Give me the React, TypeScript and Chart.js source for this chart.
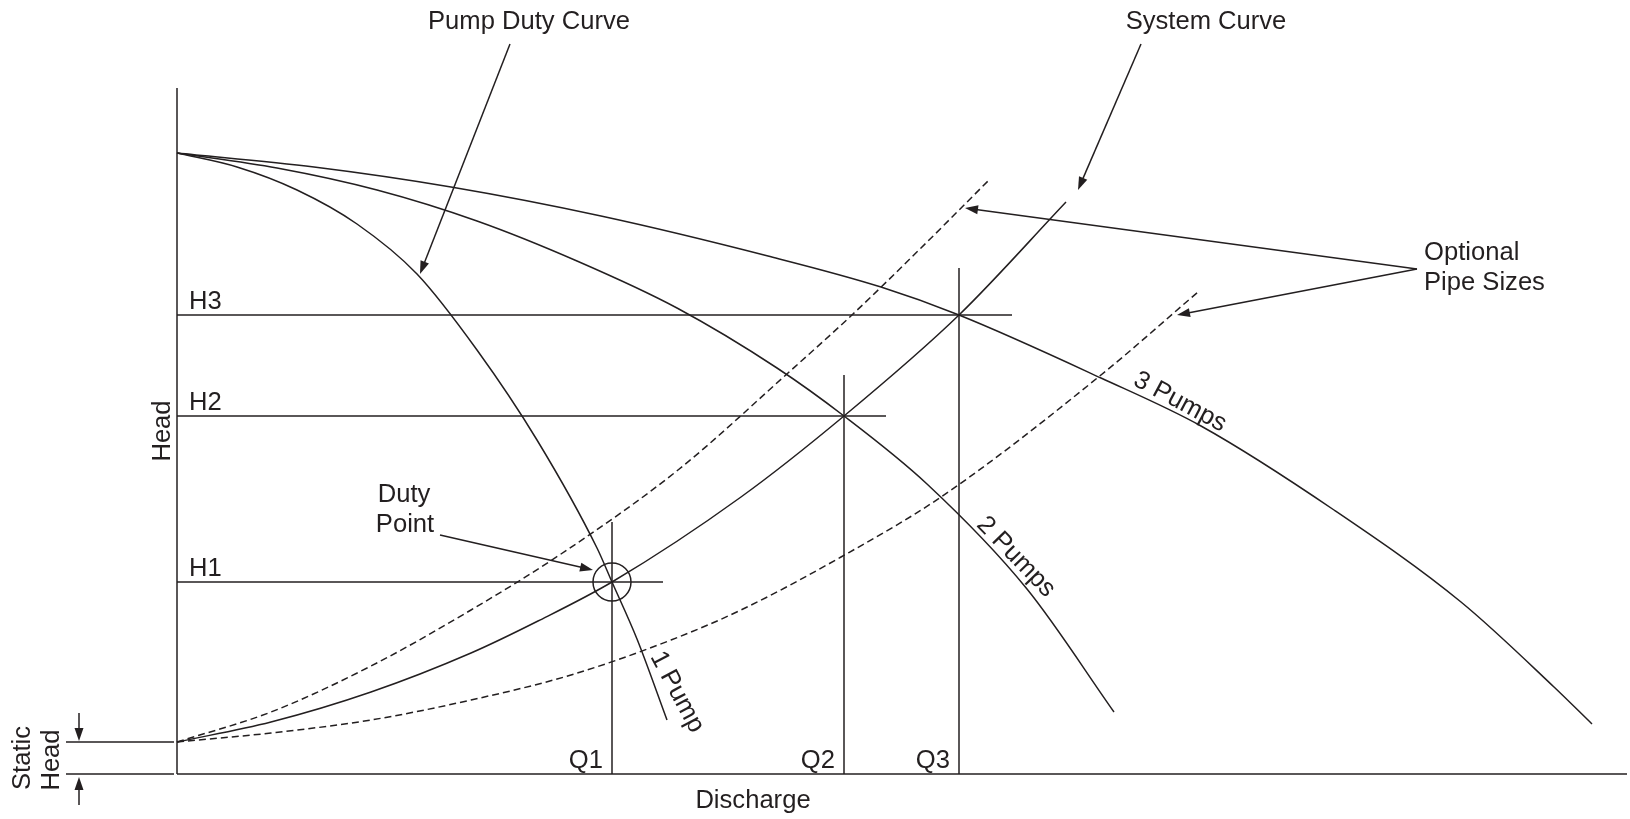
import React, { useEffect, useRef } from "react";
import { Chart, registerables } from "chart.js";

Chart.register(...registerables);

// Schematic units: discharge (x) and head (y), origin at the axes crossing.
const staticHead = 32;

const pump1Q = [0, 60, 120, 180, 240, 300, 360, 420, 435, 460, 490];
const pump1H = [621, 607, 584, 550, 500, 424, 334, 226, 192, 135, 54];

const pump2Q = [0, 100, 200, 300, 400, 500, 600, 667, 750, 850, 937];
const pump2H = [621, 606, 584, 553, 513, 466, 406, 358, 290, 185, 62];

const pump3Q = [0, 137, 274, 424, 591, 704, 782, 924, 1024, 1157, 1284, 1377, 1415];
const pump3H = [621, 607, 587, 558, 518, 487, 459, 396, 348, 264, 172, 87, 50];

const systemQ = [0, 94, 194, 294, 361, 435, 564, 667, 782, 889];
const systemH = [32, 52, 82, 121, 153, 192, 277, 358, 459, 572];

const pipeUpperQ = [0, 94, 194, 294, 384, 501, 611, 676, 744, 812];
const pipeUpperH = [32, 62, 108, 164, 220, 304, 401, 460, 526, 594];

const pipeLowerQ = [0, 94, 194, 294, 394, 494, 564, 664, 764, 924, 1021];
const pipeLowerH = [32, 41, 54, 74, 99, 134, 164, 217, 277, 399, 482];

const dutyQ = [435, 667, 782];
const dutyH = [192, 358, 459];
const qLabels = ["Q1", "Q2", "Q3"];
const hLabels = ["H1", "H2", "H3"];
const hLineEnds = [486, 709, 835];
const qLineTops = [252, 399, 506];

const xAxisEnd = 1450;
const yAxisTop = 686;

const INK = "#231f20";
const FONT = '25.6px "Liberation Sans", Arial, Helvetica, sans-serif';

const pts = (xs: number[], ys: number[]) => xs.map((x, i) => ({ x, y: ys[i] }));

type Arrow = { from: [number, number]; to: [number, number] };
const arrows: Arrow[] = [
  { from: [333, 730], to: [243, 500] },
  { from: [964, 730], to: [901, 584] },
  { from: [1240, 505], to: [788, 566] },
  { from: [1240, 505], to: [1000, 459] },
  { from: [263, 239], to: [416, 204] },
  { from: [-98, 61], to: [-98, 33] },
  { from: [-98, -31], to: [-98, -3] },
];

type Label = {
  text: string;
  x: number;
  y: number;
  rot?: number;
  align?: CanvasTextAlign;
  baseline?: CanvasTextBaseline;
};

const labels: Label[] = [
  { text: "Pump Duty Curve", x: 352, y: 745, align: "center" },
  { text: "System Curve", x: 1029, y: 745, align: "center" },
  { text: "Optional", x: 1247, y: 514, align: "left" },
  { text: "Pipe Sizes", x: 1247, y: 484, align: "left" },
  { text: "Duty", x: 227, y: 272, align: "center" },
  { text: "Point", x: 228, y: 242, align: "center" },
  { text: "Discharge", x: 576, y: -34, align: "center" },
  { text: "Head", x: -7, y: 343, rot: -90, align: "center" },
  { text: "Static", x: -147, y: 16, rot: -90, align: "center" },
  { text: "Head", x: -118, y: 14, rot: -90, align: "center" },
  { text: "1 Pump", x: 500, y: 82, rot: 62, align: "center", baseline: "middle" },
  { text: "2 Pumps", x: 839, y: 217, rot: 46, align: "center", baseline: "middle" },
  { text: "3 Pumps", x: 1003, y: 372, rot: 28, align: "center", baseline: "middle" },
  ...hLabels.map((t, i) => ({ text: t, x: 12, y: dutyH[i] + 6, align: "left" as CanvasTextAlign })),
  ...qLabels.map((t, i) => ({ text: t, x: dutyQ[i] - 9, y: 6, align: "right" as CanvasTextAlign })),
];

const annotationPlugin = {
  id: "schematicAnnotations",
  afterDatasetsDraw(chart: any) {
    const { ctx, scales } = chart;
    const sx = (v: number) => scales.x.getPixelForValue(v);
    const sy = (v: number) => scales.y.getPixelForValue(v);
    ctx.save();
    ctx.strokeStyle = INK;
    ctx.fillStyle = INK;
    ctx.lineWidth = 1.5;
    for (const a of arrows) {
      const x0 = sx(a.from[0]);
      const y0 = sy(a.from[1]);
      const x1 = sx(a.to[0]);
      const y1 = sy(a.to[1]);
      const ang = Math.atan2(y1 - y0, x1 - x0);
      const len = 13;
      const hw = 4.5;
      const bx = x1 - len * Math.cos(ang);
      const by = y1 - len * Math.sin(ang);
      ctx.beginPath();
      ctx.moveTo(x0, y0);
      ctx.lineTo(bx + 2 * Math.cos(ang), by + 2 * Math.sin(ang));
      ctx.stroke();
      ctx.beginPath();
      ctx.moveTo(x1, y1);
      ctx.lineTo(bx + hw * Math.sin(ang), by - hw * Math.cos(ang));
      ctx.lineTo(bx - hw * Math.sin(ang), by + hw * Math.cos(ang));
      ctx.closePath();
      ctx.fill();
    }
    ctx.font = FONT;
    for (const l of labels) {
      ctx.save();
      ctx.translate(sx(l.x), sy(l.y));
      if (l.rot) ctx.rotate((l.rot * Math.PI) / 180);
      ctx.textAlign = l.align || "left";
      ctx.textBaseline = l.baseline || "alphabetic";
      ctx.fillText(l.text, 0, 0);
      ctx.restore();
    }
    ctx.restore();
  },
};

export default function App() {
  const canvasRef = useRef<HTMLCanvasElement | null>(null);

  useEffect(() => {
    if (!canvasRef.current) return;
    const curve = (data: any[], dashed = false) => ({
      data,
      showLine: true,
      borderColor: INK,
      borderWidth: 1.5,
      borderDash: dashed ? [7, 4] : [],
      pointRadius: 0,
      cubicInterpolationMode: "monotone",
      fill: false,
    });
    const straight = (data: any[]) => ({
      data,
      showLine: true,
      borderColor: INK,
      borderWidth: 1.5,
      pointRadius: 0,
      tension: 0,
      fill: false,
    });

    const datasets: any[] = [
      straight([{ x: 0, y: 0 }, { x: xAxisEnd, y: 0 }]),
      straight([{ x: 0, y: 0 }, { x: 0, y: yAxisTop }]),
      straight([{ x: -111, y: staticHead }, { x: -3, y: staticHead }]),
      straight([{ x: -111, y: 0 }, { x: -3, y: 0 }]),
      ...dutyH.map((h, i) => straight([{ x: 0, y: h }, { x: hLineEnds[i], y: h }])),
      ...dutyQ.map((q, i) => straight([{ x: q, y: 0 }, { x: q, y: qLineTops[i] }])),
      curve(pts(pump1Q, pump1H)),
      curve(pts(pump2Q, pump2H)),
      curve(pts(pump3Q, pump3H)),
      curve(pts(systemQ, systemH)),
      curve(pts(pipeUpperQ, pipeUpperH), true),
      curve(pts(pipeLowerQ, pipeLowerH), true),
      {
        data: [{ x: dutyQ[0], y: dutyH[0] }],
        showLine: false,
        pointRadius: 19,
        pointStyle: "circle",
        pointBorderColor: INK,
        pointBackgroundColor: "rgba(0,0,0,0)",
        pointBorderWidth: 1.5,
      },
    ];

    const chart = new Chart(canvasRef.current, {
      type: "scatter",
      data: { datasets },
      options: {
        animation: false,
        responsive: false,
        devicePixelRatio: 1,
        clip: false as any,
        layout: { padding: 0, autoPadding: false },
        events: [],
        plugins: {
          legend: { display: false },
          title: { display: false },
          tooltip: { enabled: false },
        },
        scales: {
          x: { type: "linear", min: -177, max: 1453, display: false },
          y: { type: "linear", min: -45, max: 774, display: false },
        },
      },
      plugins: [annotationPlugin],
    } as any);
    return () => chart.destroy();
  }, []);

  return (
    <div style={{ position: "absolute", left: 0, top: 0, width: 1630, height: 819, background: "#fff" }}>
      <canvas ref={canvasRef} width={1630} height={819} style={{ display: "block" }} />
    </div>
  );
}
